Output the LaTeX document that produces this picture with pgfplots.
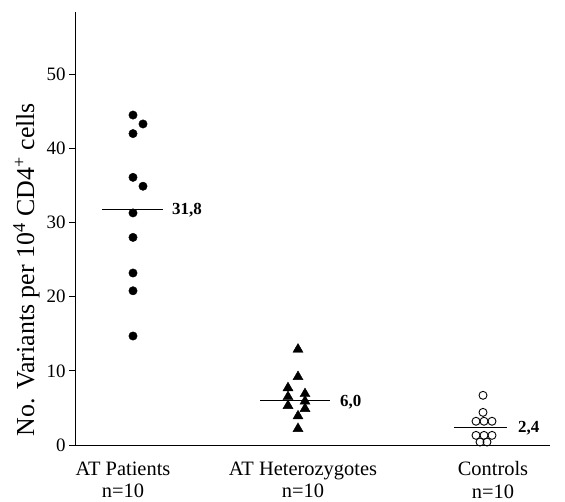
\documentclass[border=0pt]{standalone}
\usepackage{pgfplots}
\pgfplotsset{compat=1.18}
\usepackage{fontspec}
\setmainfont{Liberation Serif}
\begin{document}
\begin{tikzpicture}
\begin{axis}[
  scale only axis,
  width=475bp, height=433bp,
  xmin=0, xmax=475, ymin=0, ymax=58.4,
  clip=false,
  axis x line*=bottom, axis y line*=left,
  axis line style={-, line width=0.9pt},
  every outer x axis line/.append style={-},
  every outer y axis line/.append style={-},
  ytick={0,10,20,30,40,50},
  tick align=outside,
  major tick length=6bp,
  ytick style={black, line width=0.8pt},
  xtick={48,228,418},
  xtick style={draw=none},
  xticklabels={{AT Patients\\n=10},{AT Heterozygotes\\n=10},{Controls\\n=10}},
  xticklabel style={align=center, font=\fontsize{20.5}{23}\selectfont, yshift=-7bp},
  yticklabel style={font=\fontsize{19}{22}\selectfont},
  /pgf/number format/assume math mode=true,
  ylabel={No. Variants per 10\textsuperscript{4} CD4\textsuperscript{+} cells},
  ylabel style={font=\fontsize{26}{30}\selectfont, at={(ticklabel cs:0.405)}},
]
% AT Patients
\addplot[only marks, mark=*, mark size=4.2bp, black] coordinates {
(58,44.5)(68,43.3)(58,42.0)(58,36.1)(68,34.9)(58,31.3)(58,28.0)(58,23.2)(58,20.8)(58,14.7)};
% AT Heterozygotes
\addplot[only marks, mark=triangle*, mark size=5.8bp, black] coordinates {
(223,12.9)(223,9.2)(213,7.7)(213,6.5)(213,5.3)(230,6.9)(230,5.9)(230,4.9)(223,3.9)(223,2.2)};
% Controls
\addplot[only marks, mark=o, mark size=4bp, black, line width=0.9pt] coordinates {
(408,6.7)(408,4.4)(401,3.2)(409,3.2)(417,3.2)(401,1.3)(409,1.3)(417,1.3)(405,0.4)(412,0.4)};
% mean lines
\addplot[black, line width=1.1pt] coordinates {(27,31.8)(88,31.8)};
\addplot[black, line width=1.1pt] coordinates {(185,6.0)(255,6.0)};
\addplot[black, line width=1.1pt] coordinates {(379,2.4)(432,2.4)};
\node[anchor=base west, font=\fontsize{17}{20}\selectfont\bfseries, yshift=-5.7bp, inner sep=0pt] at (axis cs:97,31.8) {31,8};
\node[anchor=base west, font=\fontsize{17}{20}\selectfont\bfseries, yshift=-5.7bp, inner sep=0pt] at (axis cs:265,6.0) {6,0};
\node[anchor=base west, font=\fontsize{17}{20}\selectfont\bfseries, yshift=-5.7bp, inner sep=0pt] at (axis cs:443,2.4) {2,4};
\end{axis}
\pgfresetboundingbox
\path[use as bounding box] (-75bp,-57bp) rectangle (490bp,445bp);
\end{tikzpicture}
\end{document}
